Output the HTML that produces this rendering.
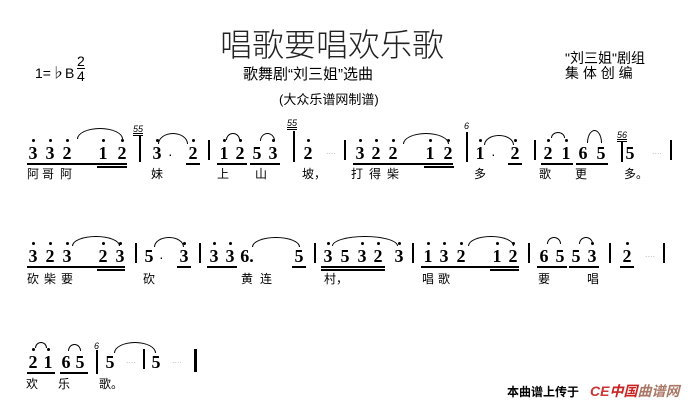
<!DOCTYPE html>
<html><head><meta charset="utf-8"><style>
body{margin:0;width:696px;height:410px;background:#fff;position:relative;overflow:hidden;font-family:"Liberation Sans","Noto Sans CJK SC",sans-serif;color:#000}
.a{position:absolute;white-space:nowrap}
.n{position:absolute;font-family:"Liberation Serif",serif;font-weight:bold;font-size:18px;width:14px;margin-left:-7px;text-align:center;line-height:18px}
.h::before{content:"";position:absolute;left:6px;top:-5px;width:3px;height:3px;border-radius:50%;background:#000}
.l{position:absolute;height:1.5px;background:#000}
.b{position:absolute;width:1.5px;background:#000}
.ly{position:absolute;font-size:12px;font-family:"Liberation Sans","Noto Sans CJK SC",sans-serif;line-height:14px;margin-left:-6px}
.t{position:absolute;border:1.2px solid #000;border-bottom:none;border-radius:50% 50% 0 0/100% 100% 0 0}
.g{position:absolute;font:italic 9px "Liberation Sans",sans-serif;text-decoration:underline double}
.d{position:absolute;font-size:9px;color:#bbb}
</style></head><body>
<div class="a" style="left:220px;top:20px;font-size:32px;font-family:'Noto Sans CJK SC',sans-serif;font-weight:300;color:#222">唱歌要唱欢乐歌</div>
<div class="a" style="left:243px;top:63px;font-size:15px;">歌舞剧“刘三姐”选曲</div>
<div class="a" style="left:279px;top:89px;font-size:13px;">(大众乐谱网制谱)</div>
<div class="a" style="left:35px;top:63px;font-size:14px;">1=♭B</div>
<div class="a" style="left:77px;top:54px;font-size:14px;line-height:14px;text-align:center">2<br><span style="border-top:1px solid #000;display:inline-block;line-height:14px">4</span></div>
<div class="a" style="left:565px;top:51px;font-size:14px;line-height:15px">"刘三姐"剧组<br>集&nbsp;体&nbsp;创&nbsp;编</div>

<!-- row 1 -->
<div class="n h" style="left:33px;top:144px">3</div><div class="n h" style="left:50px;top:144px">3</div><div class="n h" style="left:67px;top:144px">2</div><div class="n h" style="left:103px;top:144px">1</div><div class="n h" style="left:122px;top:144px">2</div>
<div class="l" style="left:27px;top:163px;width:100px"></div><div class="l" style="left:97px;top:166px;width:30px"></div>
<div class="t" style="left:77px;top:128px;width:44px;height:10px"></div>
<div class="g" style="left:133px;top:124px">55</div><div class="b" style="left:139px;top:136px;height:26px"></div>
<div class="n h" style="left:157px;top:144px">3</div><div class="a" style="left:168px;top:146px;font-size:14px">·</div><div class="n h" style="left:193px;top:144px">2</div>
<div class="l" style="left:186px;top:163px;width:14px"></div><div class="t" style="left:158px;top:133px;width:28px;height:10px"></div>
<div class="b" style="left:208px;top:140px;height:20px"></div>
<div class="n h" style="left:224px;top:144px">1</div><div class="n h" style="left:240px;top:144px">2</div><div class="n" style="left:257px;top:144px">5</div><div class="n h" style="left:273px;top:144px">3</div>
<div class="l" style="left:217px;top:163px;width:30px"></div><div class="l" style="left:250px;top:163px;width:30px"></div>
<div class="t" style="left:226px;top:133px;width:12px;height:6px"></div><div class="t" style="left:260px;top:133px;width:13px;height:7px"></div>
<div class="g" style="left:287px;top:118px">55</div><div class="b" style="left:293px;top:131px;height:31px"></div>
<div class="n h" style="left:308px;top:144px">2</div><div class="d" style="left:326px;top:146px">....</div><div class="b" style="left:344px;top:140px;height:20px"></div>
<div class="n h" style="left:360px;top:144px">3</div><div class="n h" style="left:376px;top:144px">2</div><div class="n h" style="left:393px;top:144px">2</div><div class="n h" style="left:430px;top:144px">1</div><div class="n h" style="left:448px;top:144px">2</div>
<div class="l" style="left:353px;top:163px;width:100px"></div><div class="l" style="left:424px;top:166px;width:30px"></div>
<div class="t" style="left:403px;top:133px;width:44px;height:10px"></div>
<div class="a" style="left:464px;top:121px;font:italic 9px 'Liberation Sans'">6</div><div class="b" style="left:466px;top:132px;height:30px"></div>
<div class="n h" style="left:480px;top:144px">1</div><div class="a" style="left:491px;top:146px;font-size:14px">·</div><div class="n h" style="left:515px;top:144px">2</div>
<div class="l" style="left:508px;top:163px;width:14px"></div><div class="t" style="left:484px;top:135px;width:28px;height:9px"></div>
<div class="b" style="left:534px;top:140px;height:20px"></div>
<div class="n h" style="left:548px;top:144px">2</div><div class="n h" style="left:566px;top:144px">1</div><div class="n" style="left:583px;top:144px">6</div><div class="n" style="left:601px;top:144px">5</div>
<div class="l" style="left:541px;top:163px;width:32px"></div><div class="l" style="left:576px;top:163px;width:32px"></div>
<div class="t" style="left:551px;top:132px;width:12px;height:5px"></div><div class="t" style="left:587px;top:130px;width:13px;height:12px"></div>
<div class="g" style="left:617px;top:130px">56</div><div class="b" style="left:621px;top:142px;height:20px"></div>
<div class="n" style="left:630px;top:144px">5</div><div class="d" style="left:652px;top:146px">....</div><div class="b" style="left:670px;top:140px;height:20px"></div>
<div class="ly" style="left:33px;top:167px">阿</div><div class="ly" style="left:48px;top:167px">哥</div><div class="ly" style="left:66px;top:167px">阿</div><div class="ly" style="left:157px;top:167px">妹</div><div class="ly" style="left:223px;top:167px">上</div><div class="ly" style="left:261px;top:167px">山</div><div class="ly" style="left:308px;top:167px">坡，</div>
<div class="ly" style="left:357px;top:167px">打</div><div class="ly" style="left:375px;top:167px">得</div><div class="ly" style="left:393px;top:167px">柴</div><div class="ly" style="left:480px;top:167px">多</div><div class="ly" style="left:545px;top:167px">歌</div><div class="ly" style="left:581px;top:167px">更</div><div class="ly" style="left:630px;top:167px">多。</div>

<!-- row 2 -->
<div class="n h" style="left:33px;top:247px">3</div><div class="n h" style="left:50px;top:247px">2</div><div class="n h" style="left:67px;top:247px">3</div><div class="n h" style="left:103px;top:247px">2</div><div class="n h" style="left:120px;top:247px">3</div>
<div class="l" style="left:27px;top:266px;width:98px"></div><div class="l" style="left:97px;top:269px;width:28px"></div><div class="t" style="left:72px;top:236px;width:46px;height:9px"></div>
<div class="b" style="left:135px;top:243px;height:20px"></div>
<div class="n" style="left:149px;top:247px">5</div><div class="a" style="left:159px;top:249px;font-size:14px">·</div><div class="n h" style="left:184px;top:247px">3</div><div class="l" style="left:177px;top:266px;width:14px"></div><div class="t" style="left:154px;top:237px;width:28px;height:9px"></div>
<div class="b" style="left:199px;top:243px;height:20px"></div>
<div class="n h" style="left:214px;top:247px">3</div><div class="n h" style="left:230px;top:247px">3</div><div class="n" style="left:247px;top:247px">6.</div><div class="n" style="left:299px;top:247px">5</div>
<div class="l" style="left:207px;top:266px;width:30px"></div><div class="l" style="left:292px;top:266px;width:14px"></div><div class="t" style="left:252px;top:237px;width:46px;height:9px"></div>
<div class="b" style="left:314px;top:243px;height:20px"></div>
<div class="n h" style="left:328px;top:247px">3</div><div class="n" style="left:345px;top:247px">5</div><div class="n h" style="left:362px;top:247px">3</div><div class="n h" style="left:378px;top:247px">2</div><div class="n h" style="left:399px;top:247px">3</div>
<div class="l" style="left:321px;top:266px;width:64px"></div><div class="l" style="left:321px;top:269px;width:64px"></div><div class="t" style="left:332px;top:236px;width:64px;height:9px"></div>
<div class="b" style="left:412px;top:243px;height:20px"></div>
<div class="n h" style="left:428px;top:247px">1</div><div class="n h" style="left:444px;top:247px">3</div><div class="n h" style="left:461px;top:247px">2</div><div class="n h" style="left:497px;top:247px">1</div><div class="n h" style="left:513px;top:247px">2</div>
<div class="l" style="left:421px;top:266px;width:98px"></div><div class="l" style="left:490px;top:269px;width:29px"></div><div class="t" style="left:468px;top:236px;width:44px;height:9px"></div>
<div class="b" style="left:528px;top:243px;height:20px"></div>
<div class="n" style="left:544px;top:247px">6</div><div class="n" style="left:560px;top:247px">5</div><div class="n" style="left:576px;top:247px">5</div><div class="n h" style="left:592px;top:247px">3</div>
<div class="l" style="left:537px;top:266px;width:30px"></div><div class="l" style="left:569px;top:266px;width:30px"></div><div class="t" style="left:547px;top:237px;width:12px;height:6px"></div><div class="t" style="left:579px;top:237px;width:12px;height:6px"></div>
<div class="b" style="left:609px;top:243px;height:20px"></div>
<div class="n h" style="left:627px;top:247px">2</div><div class="l" style="left:620px;top:266px;width:14px"></div><div class="d" style="left:645px;top:249px">....</div><div class="b" style="left:663px;top:243px;height:20px"></div>
<div class="ly" style="left:33px;top:272px">砍</div><div class="ly" style="left:50px;top:272px">柴</div><div class="ly" style="left:67px;top:272px">要</div><div class="ly" style="left:149px;top:272px">砍</div><div class="ly" style="left:247px;top:272px">黄</div><div class="ly" style="left:266px;top:272px">连</div><div class="ly" style="left:330px;top:272px">村，</div><div class="ly" style="left:428px;top:272px">唱</div><div class="ly" style="left:444px;top:272px">歌</div><div class="ly" style="left:544px;top:272px">要</div><div class="ly" style="left:593px;top:272px">唱</div>

<!-- row 3 -->
<div class="n h" style="left:33px;top:353px">2</div><div class="n h" style="left:48px;top:353px">1</div><div class="n" style="left:66px;top:353px">6</div><div class="n" style="left:80px;top:353px">5</div>
<div class="l" style="left:27px;top:372px;width:28px"></div><div class="l" style="left:60px;top:372px;width:28px"></div><div class="t" style="left:35px;top:342px;width:10px;height:5px"></div><div class="t" style="left:68px;top:344px;width:11px;height:6px"></div>
<div class="a" style="left:94px;top:341px;font:italic 9px 'Liberation Sans'">6</div><div class="b" style="left:96px;top:350px;height:24px"></div>
<div class="n" style="left:110px;top:353px">5</div><div class="d" style="left:126px;top:355px">....</div><div class="t" style="left:114px;top:342px;width:40px;height:10px"></div>
<div class="b" style="left:143px;top:349px;height:20px"></div>
<div class="n" style="left:156px;top:353px">5</div><div class="d" style="left:172px;top:355px">....</div>
<div class="b" style="left:194px;top:349px;height:23px;width:3px"></div>
<div class="ly" style="left:32px;top:377px">欢</div><div class="ly" style="left:64px;top:377px">乐</div><div class="ly" style="left:105px;top:377px">歌。</div>

<div class="a" style="left:507px;top:383px;font-size:12px;font-weight:bold">本曲谱上传于</div>
<div class="a" style="left:590px;top:381px;font-size:14px;font-weight:bold;font-style:italic"><span style="color:#c33">CE</span><span style="color:#c22">中国</span><span style="color:#a76">曲谱网</span></div>
</body></html>
